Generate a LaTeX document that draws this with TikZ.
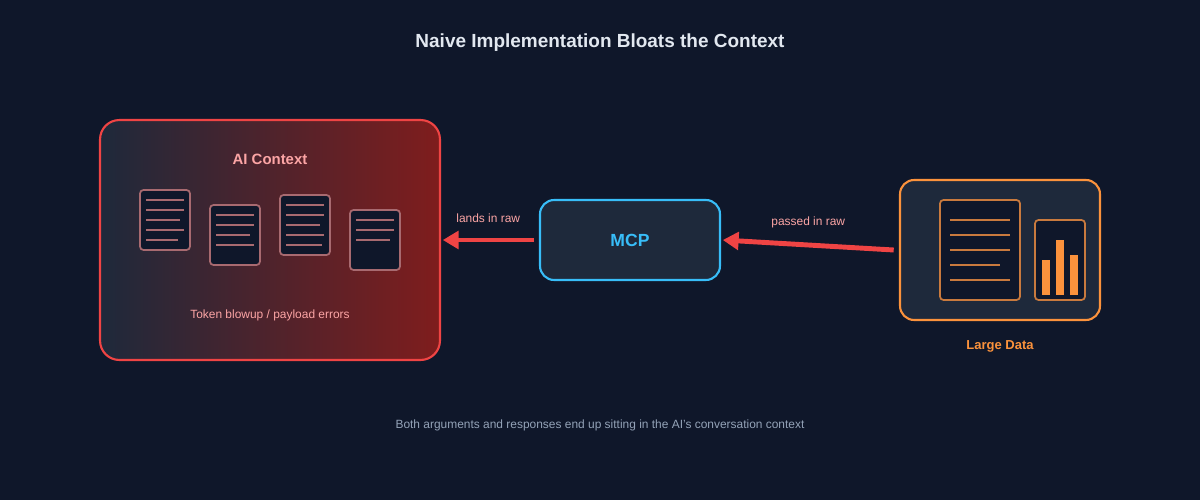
\documentclass[tikz,border=0pt]{standalone}
\usepackage{fontspec}
\setmainfont{Liberation Sans}
\usetikzlibrary{arrows.meta}
\definecolor{bg}{HTML}{0F172A}
\definecolor{panel}{HTML}{1E293B}
\definecolor{redline}{HTML}{EF4444}
\definecolor{darkred}{HTML}{7F1D1D}
\definecolor{pink}{HTML}{FCA5A5}
\definecolor{docline}{HTML}{A86A70}
\definecolor{cyanline}{HTML}{38BDF8}
\definecolor{orangeline}{HTML}{FB923C}
\definecolor{orangedim}{HTML}{C97A3E}
\definecolor{titlegray}{HTML}{E2E8F0}
\definecolor{capgray}{HTML}{94A3B8}
\tikzset{
  doc/.style={draw=docline, fill=bg, line width=1pt, rounded corners=2pt},
  flow/.style={draw=redline, line width=2.8pt, -{Triangle[length=9pt,width=10pt]}},
  small/.style={font=\fontsize{6.8}{8}\selectfont}
}
\begin{document}
\begin{tikzpicture}[x=0.02cm, y=-0.02cm]
    % Background
    \fill[bg] (0,0) rectangle (1200,500);
    \useasboundingbox (0,0) rectangle (1200,500);

    % Title
    \node[text=titlegray, font=\fontsize{10.8}{13}\selectfont\bfseries] (title) at (600,43) {Naive Implementation Bloats the Context};

    % AI context panel
    \shade[left color=panel, right color=darkred, rounded corners=11pt] (100,120) rectangle (440,360);
    \node[draw=redline, line width=1.2pt, rounded corners=11pt, minimum width=6.8cm, minimum height=4.8cm] (ctx) at (270,240) {};
    \node[text=pink, font=\fontsize{8.5}{10}\selectfont\bfseries] (ctxlabel) at (270,159) {AI Context};
    \node[text=pink, small] (ctxnote) at (270,315) {Token blowup / payload errors};

    % Documents in context
    \draw[doc] (140,190) rectangle (190,250);
    \foreach \y/\e in {200/184, 210/184, 220/180, 230/184, 240/178}
        \draw[docline, line width=1pt] (146,\y) -- (\e,\y);
    \draw[doc] (210,205) rectangle (260,265);
    \foreach \y/\e in {215/254, 225/254, 235/250, 245/254}
        \draw[docline, line width=1pt] (216,\y) -- (\e,\y);
    \draw[doc] (280,195) rectangle (330,255);
    \foreach \y/\e in {205/324, 215/324, 225/320, 235/324, 245/322}
        \draw[docline, line width=1pt] (286,\y) -- (\e,\y);
    \draw[doc] (350,210) rectangle (400,270);
    \foreach \y/\e in {220/394, 230/394, 240/390}
        \draw[docline, line width=1pt] (356,\y) -- (\e,\y);

    % MCP
    \node[draw=cyanline, fill=panel, line width=1.2pt, rounded corners=8pt, minimum width=3.6cm, minimum height=1.6cm,
          text=cyanline, font=\fontsize{10}{12}\selectfont\bfseries] (mcp) at (630,240) {MCP};

    % Large data
    \node[draw=orangeline, fill=panel, line width=1.2pt, rounded corners=8pt, minimum width=4cm, minimum height=2.8cm] (data) at (1000,250) {};
    \draw[draw=orangedim, fill=bg, line width=1pt, rounded corners=2pt] (940,200) rectangle (1020,300);
    \foreach \y/\e in {220/1010, 235/1010, 250/1010, 265/1000, 280/1010}
        \draw[orangedim, line width=1pt] (950,\y) -- (\e,\y);
    \draw[draw=orangedim, fill=bg, line width=1pt, rounded corners=2pt] (1035,220) rectangle (1085,300);
    \fill[orangeline] (1042,260) rectangle (1050,295);
    \fill[orangeline] (1056,240) rectangle (1064,295);
    \fill[orangeline] (1070,255) rectangle (1078,295);
    \node[text=orangeline, font=\fontsize{7.4}{9}\selectfont\bfseries] (datalabel) at (1000,346) {Large Data};

    % Flows
    \draw[flow] ([xshift=-3pt]data.west) -- node[above=5pt, text=pink, small] {passed in raw} ([xshift=1pt]mcp.east);
    \draw[flow] ([xshift=-3pt]mcp.west) -- node[above=5pt, text=pink, small] {lands in raw} ([xshift=1pt]ctx.east);

    % Caption
    \node[text=capgray, small] (caption) at (600,425) {Both arguments and responses end up sitting in the AI's conversation context};
\end{tikzpicture}
\end{document}
